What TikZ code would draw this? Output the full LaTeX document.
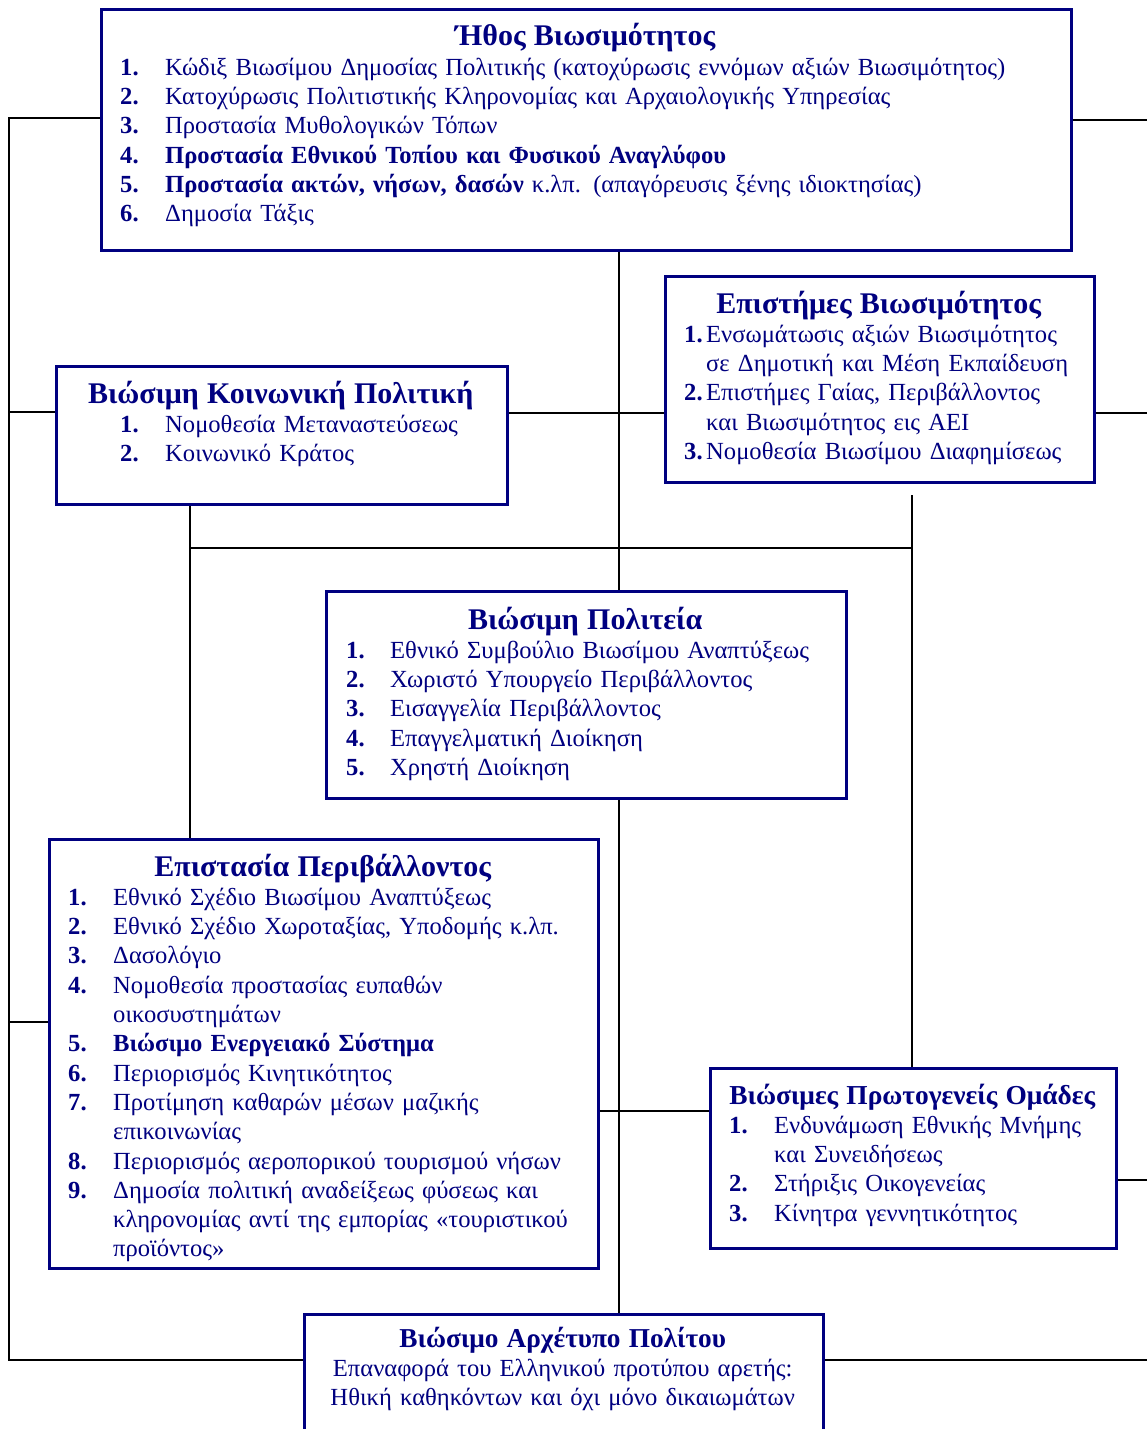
\documentclass[tikz,border=0pt]{standalone}
\usepackage{fontspec}
\setmainfont{Liberation Serif}
\definecolor{navy}{RGB}{0,0,128}
\newlength\NumX
\newlength\NumW
\newcommand\Ttl[2][30]{{\centering\bfseries\fontsize{#1}{29.3}\selectfont #2\par}}
\newcommand\Itm[2]{\par\noindent\hspace*{\NumX}\makebox[\NumW][l]{\bfseries #1}#2}
\newcommand\Cnt[1]{\par\noindent\hspace*{\NumX}\hspace*{\NumW}#1}
\tikzset{
  box/.style={draw=navy, line width=2.6pt, fill=white, inner sep=0pt, anchor=north west},
  txt/.style={text=navy, text width=#1, inner sep=0pt, anchor=base west, font=\fontsize{24.6}{29.3}\selectfont},
  conn/.style={line width=2pt, draw=black}
}
\begin{document}
\begin{tikzpicture}[x=1pt,y=-1pt]
\useasboundingbox (0,0) rectangle (1147,1429);
\clip (0,0) rectangle (1147,1429);
% coordinates for connectors
\coordinate (LT) at (9,118);
\coordinate (LB) at (9,1360);
\coordinate (ySoc) at (0,412);
\coordinate (yEpi) at (0,1022);
\coordinate (yMid) at (0,1111);
\coordinate (R1) at (1147,120);
\coordinate (R3) at (1147,413);
\coordinate (R6) at (1147,1180);
\coordinate (R7) at (1147,1360);
\coordinate (xC) at (619,0);
\coordinate (HL) at (190,548);
\coordinate (HR) at (912,548);
\coordinate (VT) at (912,495);

% boxes
\node[box, minimum width=970pt, minimum height=241pt] (ethos) at (100,8) {};
\node[box, minimum width=451pt, minimum height=138pt] (social) at (55,365) {};
\node[box, minimum width=429pt, minimum height=206pt] (sci) at (664,275) {};
\node[box, minimum width=520pt, minimum height=207pt] (polit) at (325,590) {};
\node[box, minimum width=549pt, minimum height=429pt] (epist) at (48,838) {};
\node[box, minimum width=406pt, minimum height=180pt] (prot) at (709,1067) {};
\node[box, minimum width=519pt, minimum height=140pt] (arch) at (303,1313) {};

% connectors
\draw[conn] (ethos.west |- LT) -- (LT) -- (LB) -- (arch.west |- LB);
\draw[conn] (LT |- ySoc) -- (social.west |- ySoc);
\draw[conn] (LT |- yEpi) -- (epist.west |- yEpi);
\draw[conn] (ethos.east |- R1) -- (R1);
\draw[conn] (sci.east |- R3) -- (R3);
\draw[conn] (social.east |- R3) -- (sci.west |- R3);
\draw[conn] (prot.east |- R6) -- (R6);
\draw[conn] (arch.east |- R7) -- (R7);
\draw[conn] (ethos.south -| xC) -- (polit.north -| xC);
\draw[conn] (polit.south -| xC) -- (arch.north -| xC);
\draw[conn] (HL) -- (HR);
\draw[conn] (social.south -| HL) -- (epist.north -| HL);
\draw[conn] (VT) -- (prot.north -| VT);
\draw[conn] (epist.east |- yMid) -- (prot.west |- yMid);

% texts
\node[txt=970pt] (ethos-t) at (100,46) {\Ttl{Ήθος Βιωσιμότητος}\setlength\NumX{20pt}\setlength\NumW{45pt}%
\Itm{1.}{Κώδιξ Βιωσίμου Δημοσίας Πολιτικής (κατοχύρωσις εννόμων αξιών Βιωσιμότητος)}%
\Itm{2.}{Κατοχύρωσις Πολιτιστικής Κληρονομίας και Αρχαιολογικής Υπηρεσίας}%
\Itm{3.}{Προστασία Μυθολογικών Τόπων}%
\Itm{4.}{\textbf{Προστασία Εθνικού Τοπίου και Φυσικού Αναγλύφου}}%
\Itm{5.}{\textbf{Προστασία ακτών, νήσων, δασών} κ.λπ. (απαγόρευσις ξένης ιδιοκτησίας)}%
\Itm{6.}{Δημοσία Τάξις}\par};

\node[txt=451pt] (social-t) at (55,403) {\Ttl{Βιώσιμη Κοινωνική Πολιτική}\setlength\NumX{65pt}\setlength\NumW{45pt}%
\Itm{1.}{Νομοθεσία Μεταναστεύσεως}%
\Itm{2.}{Κοινωνικό Κράτος}\par};

\node[txt=429pt] (sci-t) at (664,313) {\Ttl{Επιστήμες Βιωσιμότητος}\setlength\NumX{20pt}\setlength\NumW{22pt}%
\Itm{1.}{Ενσωμάτωσις αξιών Βιωσιμότητος}%
\Cnt{σε Δημοτική και Μέση Εκπαίδευση}%
\Itm{2.}{Επιστήμες Γαίας, Περιβάλλοντος}%
\Cnt{και Βιωσιμότητος εις ΑΕΙ}%
\Itm{3.}{Νομοθεσία Βιωσίμου Διαφημίσεως}\par};

\node[txt=520pt] (polit-t) at (325,629) {\Ttl{Βιώσιμη Πολιτεία}\setlength\NumX{21pt}\setlength\NumW{44pt}%
\Itm{1.}{Εθνικό Συμβούλιο Βιωσίμου Αναπτύξεως}%
\Itm{2.}{Χωριστό Υπουργείο Περιβάλλοντος}%
\Itm{3.}{Εισαγγελία Περιβάλλοντος}%
\Itm{4.}{Επαγγελματική Διοίκηση}%
\Itm{5.}{Χρηστή Διοίκηση}\par};

\node[txt=549pt] (epist-t) at (48,876) {\Ttl{Επιστασία Περιβάλλοντος}\setlength\NumX{20pt}\setlength\NumW{45pt}%
\Itm{1.}{Εθνικό Σχέδιο Βιωσίμου Αναπτύξεως}%
\Itm{2.}{Εθνικό Σχέδιο Χωροταξίας, Υποδομής κ.λπ.}%
\Itm{3.}{Δασολόγιο}%
\Itm{4.}{Νομοθεσία προστασίας ευπαθών}%
\Cnt{οικοσυστημάτων}%
\Itm{5.}{\textbf{Βιώσιμο Ενεργειακό Σύστημα}}%
\Itm{6.}{Περιορισμός Κινητικότητος}%
\Itm{7.}{Προτίμηση καθαρών μέσων μαζικής}%
\Cnt{επικοινωνίας}%
\Itm{8.}{Περιορισμός αεροπορικού τουρισμού νήσων}%
\Itm{9.}{Δημοσία πολιτική αναδείξεως φύσεως και}%
\Cnt{κληρονομίας αντί της εμπορίας «τουριστικού}%
\Cnt{προϊόντος»}\par};

\node[txt=406pt] (prot-t) at (709,1104) {\Ttl[27.4]{Βιώσιμες Πρωτογενείς Ομάδες}\setlength\NumX{20pt}\setlength\NumW{45pt}%
\Itm{1.}{Ενδυνάμωση Εθνικής Μνήμης}%
\Cnt{και Συνειδήσεως}%
\Itm{2.}{Στήριξις Οικογενείας}%
\Itm{3.}{Κίνητρα γεννητικότητος}\par};

\node[txt=519pt] (arch-t) at (303,1347) {\Ttl[27.3]{Βιώσιμο Αρχέτυπο Πολίτου}{\centering Επαναφορά του Ελληνικού προτύπου αρετής:\par Ηθική καθηκόντων και όχι μόνο δικαιωμάτων\par}};
\end{tikzpicture}
\end{document}
